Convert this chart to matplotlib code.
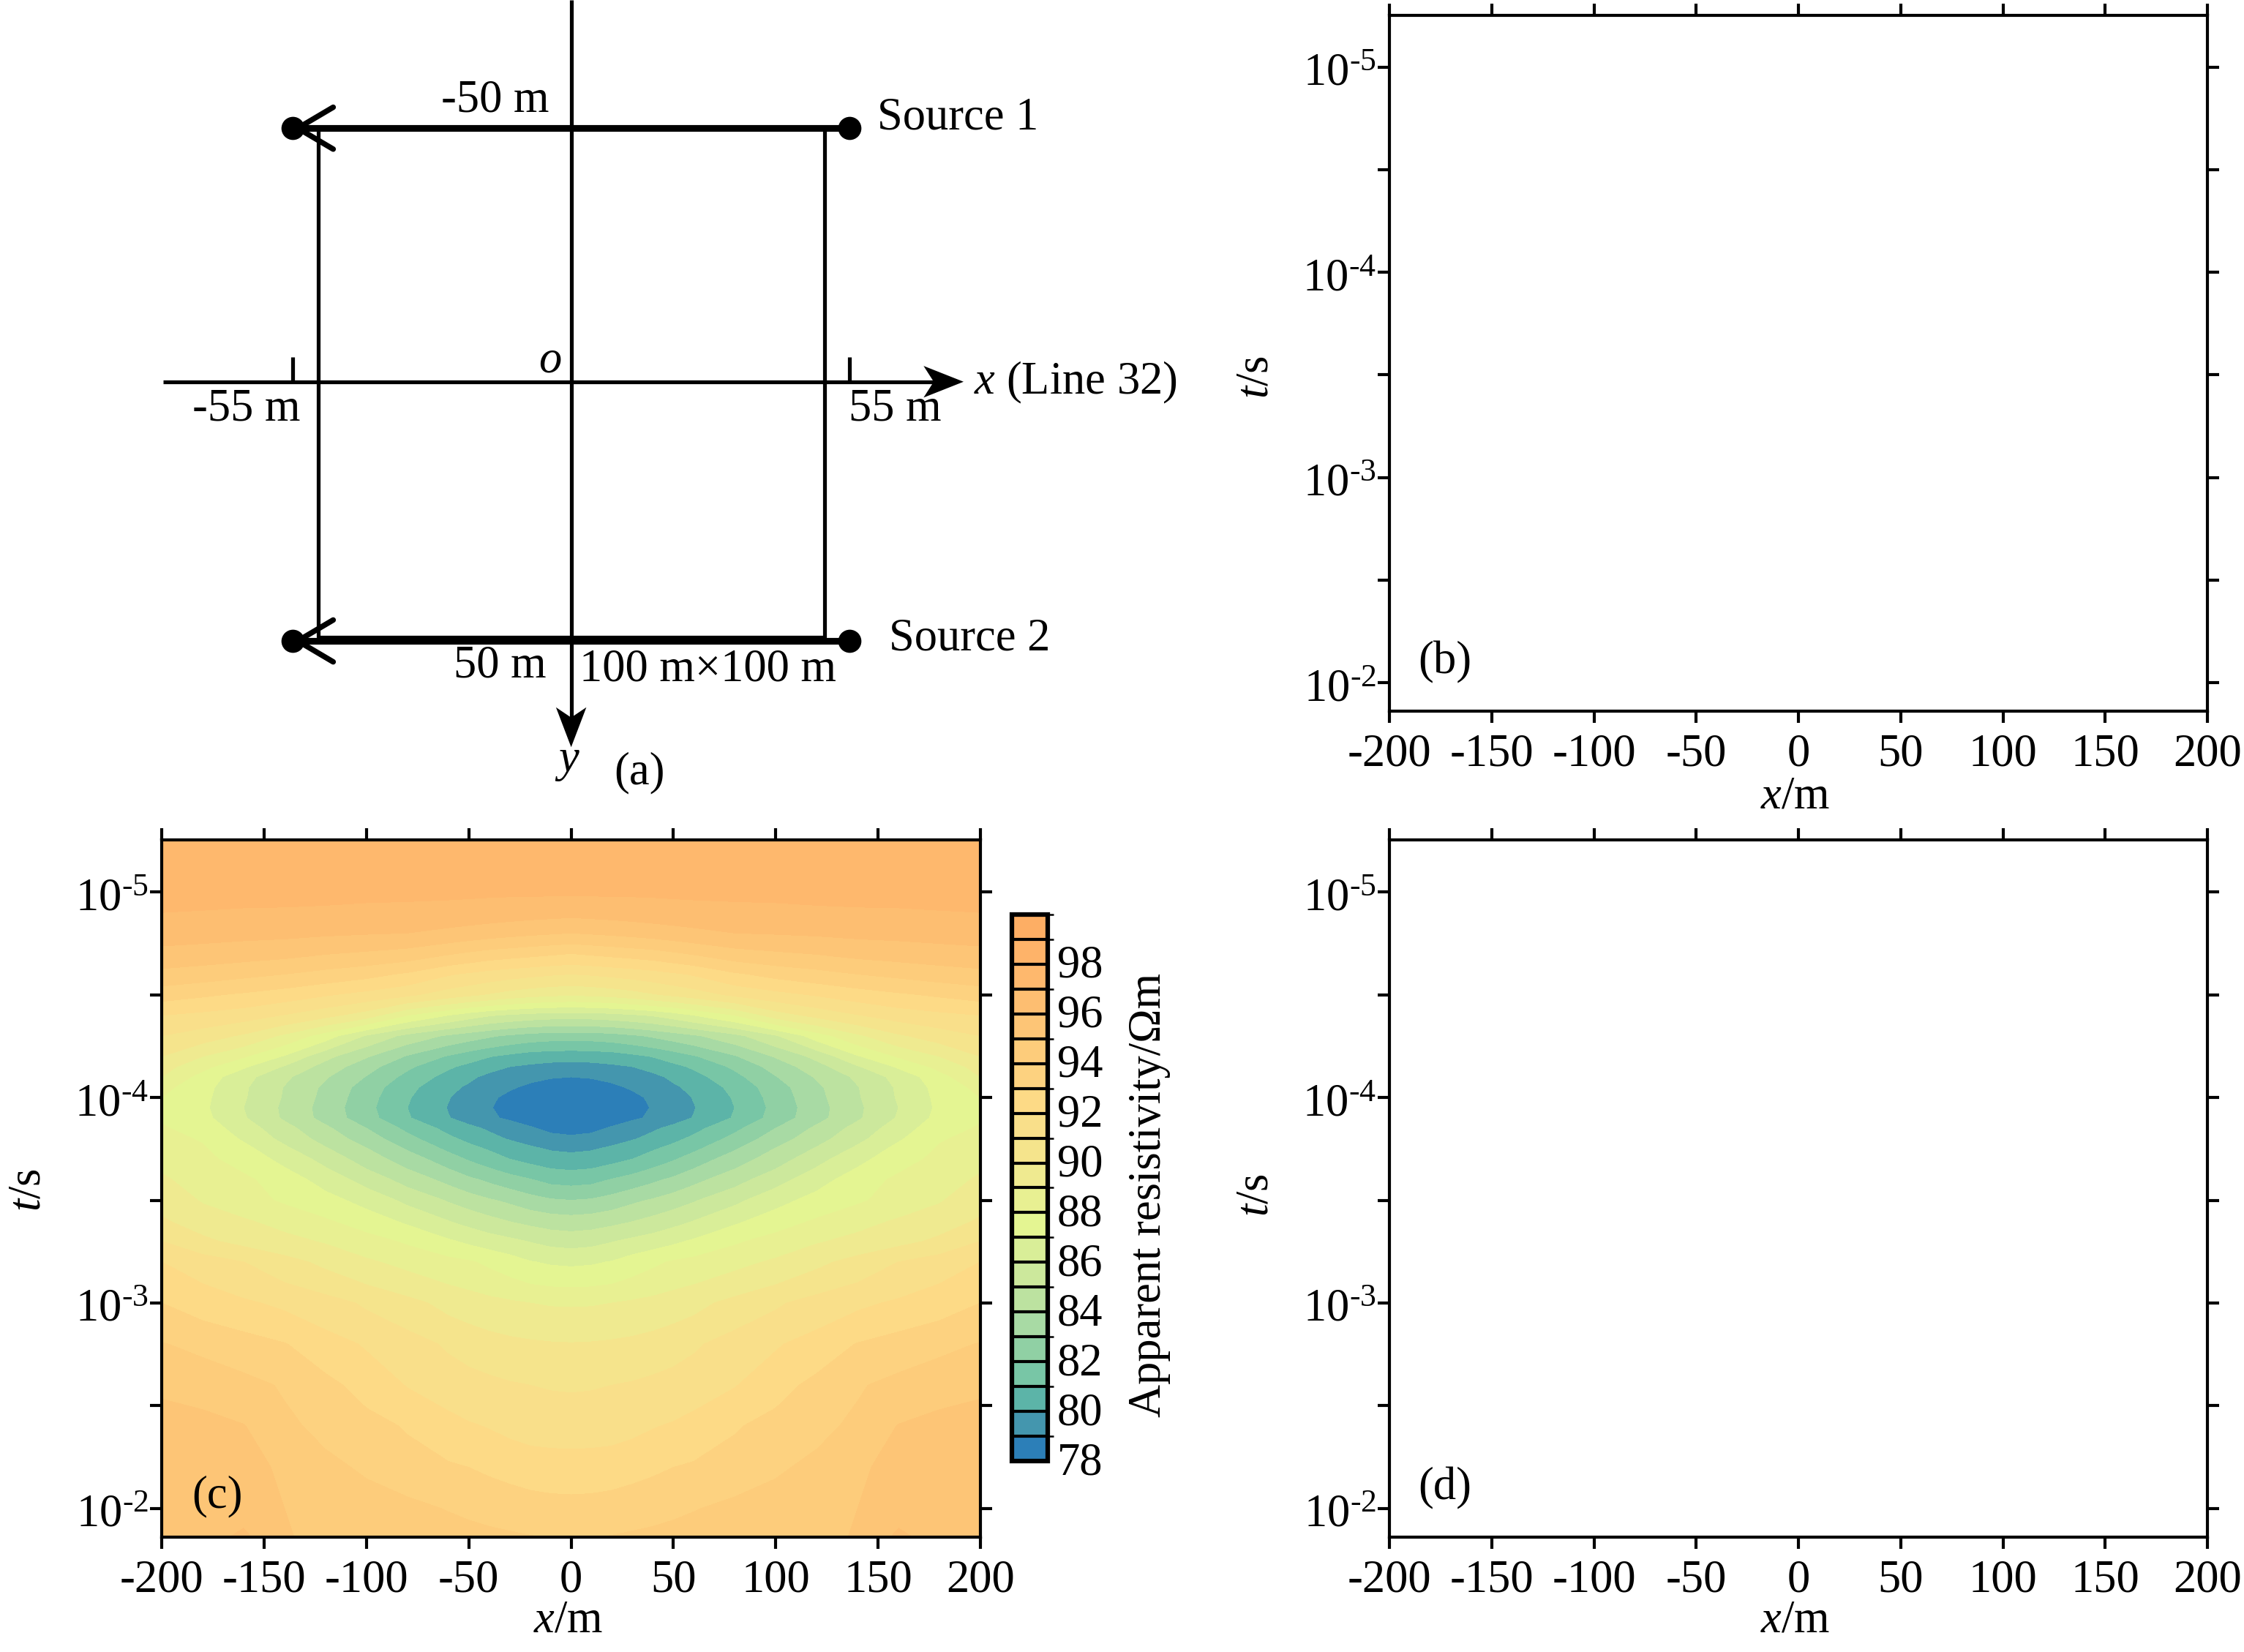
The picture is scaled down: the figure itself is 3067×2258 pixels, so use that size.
"""
Apparent resistivity section for a two-source loop layout: sketch (a), contour map (c),
empty panels (b) and (d)
"""

import matplotlib
matplotlib.use('Agg')
import matplotlib.pyplot as plt
from matplotlib.colors import ListedColormap, BoundaryNorm
from matplotlib.transforms import ScaledTranslation
import numpy as np

plt.rcParams['font.family'] = ['Liberation Serif', 'DejaVu Serif']
plt.rcParams['font.size'] = 15
plt.rcParams['mathtext.fontset'] = 'custom'
plt.rcParams['mathtext.rm'] = 'Liberation Serif'
plt.rcParams['mathtext.it'] = 'Liberation Serif:italic'
plt.rcParams['axes.unicode_minus'] = False

W, H = 3067, 2258

# values, right half; the section is symmetric about x = 0
x_half = [0, 10, 20, 30, 40, 50, 60, 80, 100, 120, 140, 160, 180, 200]
log_t = [-5.3, -5.0, -4.9, -4.8, -4.7, -4.6, -4.5, -4.4, -4.3, -4.2, -4.15, -4.1, -4.05, -4.0,
         -3.95, -3.9, -3.85, -3.8, -3.75, -3.7, -3.6, -3.5, -3.4, -3.3, -3.2, -3.0, -2.8,
         -2.6, -2.4, -2.2, -2.0, -1.85]
rho_half = [
    [97.6, 97.6, 97.6, 97.6, 97.6, 97.6, 97.6, 97.6, 97.6, 97.6, 97.6, 97.6, 97.6, 97.6],
    [97.15, 97.15, 97.15, 97.15, 97.15, 97.18, 97.2, 97.2, 97.2, 97.25, 97.25, 97.25, 97.3, 97.3],
    [96.3, 96.35, 96.4, 96.47, 96.55, 96.6, 96.65, 96.75, 96.8, 96.85, 96.9, 96.92, 96.96, 97.0],
    [95.0, 95.1, 95.2, 95.32, 95.45, 95.6, 95.75, 96.0, 96.07, 96.15, 96.25, 96.3, 96.37, 96.42],
    [93.0, 93.15, 93.3, 93.45, 93.6, 93.85, 94.1, 94.6, 94.85, 95.05, 95.3, 95.45, 95.6, 95.73],
    [91.0, 91.1, 91.25, 91.4, 91.6, 91.85, 92.1, 92.85, 93.33, 93.65, 94.0, 94.25, 94.5, 94.7],
    [89.1, 89.2, 89.35, 89.6, 89.9, 90.2, 90.5, 91.2, 91.67, 92.1, 92.5, 92.85, 93.15, 93.43],
    [85.5, 85.52, 85.65, 85.85, 86.1, 86.5, 87.0, 88.0, 89.5, 90.3, 90.95, 91.45, 91.75, 92.0],
    [82.45, 82.48, 82.6, 82.85, 83.15, 83.5, 83.85, 84.7, 85.9, 87.5, 88.8, 89.85, 90.5, 91.0],
    [80.35, 80.4, 80.5, 80.75, 81.05, 81.45, 81.9, 82.9, 84.1, 85.3, 86.9, 88.1, 89.0, 90.0],
    [79.65, 79.7, 79.83, 80.0, 80.35, 80.75, 81.15, 82.2, 83.4, 84.6, 85.9, 87.15, 88.3, 89.4],
    [79.0, 79.05, 79.2, 79.45, 79.75, 80.2, 80.65, 81.7, 82.95, 84.1, 85.2, 86.35, 87.6, 89.0],
    [78.65, 78.72, 78.85, 79.1, 79.45, 79.85, 80.25, 81.3, 82.55, 83.8, 84.95, 86.15, 87.35, 88.3],
    [78.35, 78.4, 78.6, 78.8, 79.15, 79.6, 80.05, 81.1, 82.4, 83.7, 84.9, 86.1, 87.25, 88.0],
    [78.25, 78.35, 78.55, 78.75, 79.05, 79.5, 79.95, 81.0, 82.3, 83.6, 84.8, 86.0, 87.2, 87.85],
    [78.35, 78.42, 78.6, 78.85, 79.15, 79.6, 80.05, 81.1, 82.4, 83.65, 84.85, 86.1, 87.3, 87.9],
    [78.6, 78.75, 79.1, 79.5, 79.85, 80.25, 80.7, 81.75, 83.0, 84.2, 85.35, 86.5, 87.6, 88.1],
    [79.2, 79.3, 79.55, 79.9, 80.3, 80.75, 81.2, 82.3, 83.5, 84.6, 85.7, 86.85, 87.9, 88.3],
    [79.8, 79.9, 80.2, 80.55, 80.9, 81.3, 81.8, 82.9, 84.05, 85.1, 86.2, 87.3, 88.1, 88.6],
    [80.35, 80.45, 80.7, 81.0, 81.45, 81.9, 82.45, 83.5, 84.5, 85.65, 86.7, 87.6, 88.25, 88.8],
    [81.6, 81.7, 82.05, 82.4, 82.8, 83.2, 83.7, 84.6, 85.6, 86.6, 87.5, 88.2, 88.7, 89.1],
    [83.0, 83.1, 83.4, 83.8, 84.1, 84.5, 84.9, 85.75, 86.65, 87.35, 87.85, 88.4, 88.9, 89.7],
    [84.4, 84.5, 84.7, 84.95, 85.3, 85.65, 86.0, 86.8, 87.5, 88.1, 88.65, 89.1, 89.55, 90.1],
    [85.6, 85.7, 85.95, 86.25, 86.5, 86.8, 87.15, 87.85, 88.4, 88.9, 89.3, 89.7, 90.2, 91.0],
    [86.8, 86.87, 87.05, 87.45, 87.8, 88.1, 88.3, 88.7, 89.15, 89.75, 90.35, 91.0, 91.5, 92.0],
    [88.9, 88.92, 89.0, 89.15, 89.3, 89.5, 89.7, 90.3, 90.85, 91.4, 91.8, 92.15, 92.55, 93.0],
    [90.05, 90.08, 90.15, 90.25, 90.4, 90.6, 90.85, 91.45, 91.9, 92.4, 93.05, 93.45, 93.75, 94.05],
    [90.9, 90.93, 91.0, 91.1, 91.25, 91.4, 91.6, 91.95, 92.6, 93.3, 93.9, 94.3, 94.65, 94.9],
    [91.55, 91.57, 91.6, 91.75, 91.95, 92.1, 92.3, 92.9, 93.4, 93.75, 94.2, 95.05, 95.3, 95.25],
    [92.45, 92.47, 92.55, 92.7, 92.85, 93.0, 93.15, 93.5, 93.85, 94.25, 94.85, 95.3, 95.45, 95.4],
    [93.35, 93.38, 93.45, 93.55, 93.65, 93.8, 93.95, 94.25, 94.5, 94.7, 95.0, 95.55, 95.5, 95.45],
    [94.0, 94.03, 94.1, 94.2, 94.3, 94.4, 94.5, 94.65, 94.75, 94.85, 95.05, 96.3, 95.6, 95.5],
]

levels = list(range(78, 101))
cbar_ticks = list(range(78, 100, 2))
band_colors = ['#2c7fb8', '#4496ae', '#5cb4a8', '#78c6a6', '#90d0a4', '#a8daa4',
               '#bce2a0', '#cce89c', '#d9ee98', '#e4f592', '#e8f092', '#efea90',
               '#f5e48c', '#f9df8a', '#fdda86', '#fdd280', '#fdcc7b', '#fdc576',
               '#fdbe71', '#feb86d', '#feb369', '#fdae64']

x_ticks = [-200, -150, -100, -50, 0, 50, 100, 150, 200]
x_ticklabels = ['-200', '-150', '-100', '-50', '0', '50', '100', '150', '200']
t_exponents = [-5, -4.5, -4, -3.5, -3, -2.5, -2]
t_ticklabels = ['10$^{\\text{-}5}$', '', '10$^{\\text{-}4}$', '', '10$^{\\text{-}3}$', '',
                '10$^{\\text{-}2}$']
t_limits = (10 ** -5.253, 10 ** -1.861)

# layout sketch, metres
source_x = [-55, 55]
source_y = [-50, 50.4]
loop_half = 50
axis_y = -0.35


def px_axes(left, top, right, bottom):
    """Axes from pixel edges of the final image"""
    return fig.add_axes([left / W, 1 - bottom / H, (right - left) / W, (bottom - top) / H])


def nudge(label, dx_px, dy_px):
    """Shift a text by image pixels, y up"""
    label.set_transform(label.get_transform()
                        + ScaledTranslation(dx_px / 300, dy_px / 300, fig.dpi_scale_trans))


def style_section(ax, label_y, ylabel_y, tag, tag_y):
    ax.set_yscale('log')
    ax.set_xlim(-200, 200)
    ax.set_ylim(t_limits[1], t_limits[0])
    ax.set_xticks(x_ticks, x_ticklabels)
    ax.set_yticks([10.0 ** e for e in t_exponents], t_ticklabels)
    ax.minorticks_off()
    ax.tick_params(axis='both', which='major', direction='out', length=3.9, width=1.0,
                   top=True, right=True, labelsize=15)
    ax.tick_params(axis='x', pad=3.5)
    ax.tick_params(axis='y', pad=0.4)
    for lab in ax.get_yticklabels():
        nudge(lab, 0, -3)
    for sp in ax.spines.values():
        sp.set_linewidth(1.0)
    ax.set_xlabel('$\\mathit{x}$/m', va='center')
    ax.xaxis.set_label_coords(0.4965, label_y)
    ax.set_ylabel('$\\mathit{t}$/s', va='center')
    ax.yaxis.set_label_coords(-0.1625, ylabel_y)
    ax.text(0.068, tag_y, tag, transform=ax.transAxes, ha='center', va='center')


fig = plt.figure(figsize=((W + 0.01) / 300, (H + 0.01) / 300), dpi=300)

# (a) layout sketch
ax_a = px_axes(0, 0, 1663, 1105)
ax_a.set_xlim(-112.8, 127.5)
ax_a.set_ylim(83.2, -75.1)
ax_a.axis('off')

thin = 1.25
thick = 2.2
ax_a.plot([-80.6, 73], [axis_y, axis_y], color='k', lw=thin, solid_capstyle='butt')
ax_a.plot([0, 0], [-75.1, 66], color='k', lw=thin, solid_capstyle='butt')
ax_a.fill([77.5, 69.6, 71.6, 69.6],
          [axis_y, axis_y - 3.1, axis_y, axis_y + 3.1], color='k', lw=0)
ax_a.fill([0, -3, 0, 3], [71.2, 63.4, 65.4, 63.4], color='k', lw=0)

ax_a.plot([-loop_half, -loop_half, loop_half, loop_half],
          [source_y[0], 49.7, 49.7, source_y[0]], color='k', lw=thin, solid_capstyle='butt')
for sy in source_y:
    ax_a.plot(source_x, [sy, sy], color='k', lw=thick, solid_capstyle='butt')
    ax_a.plot(source_x, [sy, sy], 'o', color='k', ms=7.6, mew=0, ls='none')
    # open arrow at the left end of each source wire
    ax_a.plot([-47, -54, -47], [sy - 4.1, sy, sy + 4.1], color='k', lw=1.8,
              solid_capstyle='round', solid_joinstyle='miter')
for tx in source_x:
    ax_a.plot([tx, tx], [-5.2, axis_y], color='k', lw=thin, solid_capstyle='butt')

ax_a.text(-15, -55.4, '-50 m', ha='center', va='center')
ax_a.text(60.4, -52, 'Source 1', ha='left', va='center')
ax_a.text(-4.2, -4.4, '$\\mathit{o}$', ha='center', va='center')
ax_a.text(-64.2, 5, '-55 m', ha='center', va='center')
ax_a.text(64, 5, '55 m', ha='center', va='center')
ax_a.text(79.5, -0.2, '$\\mathit{x}$ (Line 32)', ha='left', va='center')
ax_a.text(62.8, 50, 'Source 2', ha='left', va='center')
ax_a.text(-14, 55.3, '50 m', ha='center', va='center')
ax_a.text(27, 56, '100 m×100 m', ha='center', va='center')
ax_a.text(-0.8, 74, '$\\mathit{y}$', ha='center', va='center')
ax_a.text(13.5, 76.3, '(a)', ha='center', va='center')

# (b), (d) empty panels
ax_b = px_axes(1899, 21, 3017, 972)
style_section(ax_b, -0.124, 0.48, '(b)', 0.07)
ax_d = px_axes(1899, 1148, 3017, 2101)
style_section(ax_d, -0.1205, 0.49, '(d)', 0.07)

# (c) contour map
x_full = np.array([-v for v in x_half[:0:-1]] + x_half)
t_full = 10.0 ** np.array(log_t)
rho_half = np.array(rho_half)
rho_full = np.hstack([rho_half[:, :0:-1], rho_half])

ax_c = px_axes(221, 1148, 1340, 2101)
cmap = ListedColormap(band_colors)
norm = BoundaryNorm(levels, cmap.N)
cf = ax_c.contourf(x_full, t_full, rho_full, levels=levels, cmap=cmap, norm=norm,
                   antialiased=False)
style_section(ax_c, -0.1205, 0.498, '(c)', 0.058)

cax = px_axes(1383, 1250, 1432, 1997)
cbar = fig.colorbar(cf, cax=cax, ticks=cbar_ticks, drawedges=True, spacing='uniform')
cbar.ax.tick_params(length=0, pad=3.0, labelsize=15)
for lab in cbar.ax.get_yticklabels():
    nudge(lab, 0, 4)
cbar.outline.set_linewidth(1.5)
cbar.dividers.set_linewidth(1.0)
fig.text(1571 / W, 1 - 1633 / H, 'Apparent resistivity/Ωm', rotation=90,
         ha='center', va='center', fontsize=15)

fig.savefig('out.png', dpi=300)
